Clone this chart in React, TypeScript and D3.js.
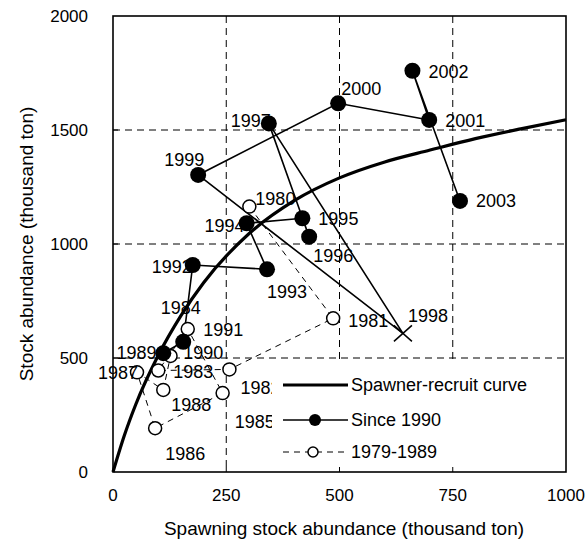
import React from "react";
import * as d3 from "d3";

// axis ticks
const xTicks = [0, 250, 500, 750, 1000];
const yTicks = [0, 500, 1000, 1500, 2000];
const gridX = [250, 500, 750];
const gridY = [500, 1000, 1500];

// 1979-1989 period (open circles, dashed)
const oldYears = ["1980", "1981", "1982", "1983", "1984", "1985", "1986", "1987", "1988", "1989"];
const oldSpawning = [301, 486, 257, 100, 165, 242, 93, 53, 111, 127];
const oldStock = [1164, 674, 450, 445, 627, 346, 192, 437, 360, 509];

// since 1990 (filled circles, solid)
const newYears = ["1990", "1991", "1992", "1993", "1994", "1995", "1996", "1997", "1998", "1999", "2000", "2001", "2002", "2003"];
const newSpawning = [111, 155, 176, 340, 295, 418, 433, 344, 640, 188, 497, 698, 661, 766];
const newStock = [521, 571, 908, 889, 1091, 1113, 1032, 1529, 608, 1303, 1617, 1544, 1760, 1189];
const crossYears = ["1998"];

// spawner-recruit curve
const curveSpawning = [0, 25, 50, 100, 150, 200, 300, 400, 500, 600, 700, 800, 900, 1000];
const curveStock = [0, 160, 295, 512, 686, 830, 1045, 1190, 1290, 1360, 1412, 1462, 1505, 1545];

const legendLabels = ["Spawner-recruit curve", "Since 1990", "1979-1989"];

// label placement [dx, dy, anchor]
const labelPos: Record<string, [number, number, string]> = {
  "1980": [6, -8, "start"],
  "1981": [15, 2, "start"],
  "1982": [11, 18, "start"],
  "1983": [15, 1, "start"],
  "1984": [-7, -21, "middle"],
  "1985": [12, 29, "start"],
  "1986": [10, 25, "start"],
  "1987": [1, 0, "end"],
  "1988": [8, 15, "start"],
  "1989": [-14, -3, "end"],
  "1990": [20, -1, "start"],
  "1991": [20, -12, "start"],
  "1992": [-1, 2, "end"],
  "1993": [0, 22, "start"],
  "1994": [-2, 2, "end"],
  "1995": [16, 0, "start"],
  "1996": [4, 19, "start"],
  "1997": [2, -3, "end"],
  "1998": [5, -18, "start"],
  "1999": [-14, -15, "middle"],
  "2000": [3, -15, "start"],
  "2001": [16, 1, "start"],
  "2002": [16, 1, "start"],
  "2003": [16, 0, "start"],
};

const W = 586;
const H = 550;
const left = 113, right = 566, top = 16, bottom = 472;
const font = "'Liberation Sans', Arial, sans-serif";

export default function App() {
  const x = d3.scaleLinear().domain([0, 1000]).range([left, right]);
  const y = d3.scaleLinear().domain([0, 2000]).range([bottom, top]);

  const curvePts = curveSpawning.map((s, i) => [s, curveStock[i]] as [number, number]);
  const oldPts = oldYears.map((yr, i) => ({ yr, s: oldSpawning[i], r: oldStock[i] }));
  const newPts = newYears.map((yr, i) => ({ yr, s: newSpawning[i], r: newStock[i] }));

  const line = d3.line<[number, number]>().x(d => x(d[0])).y(d => y(d[1]));
  const smooth = d3.line<[number, number]>().x(d => x(d[0])).y(d => y(d[1])).curve(d3.curveMonotoneX);

  const legY = [385, 420, 452];

  return (
    <div style={{ position: "absolute", left: 0, top: 0 }}>
      <svg width={W} height={H} style={{ display: "block", fontFamily: font }}>
        <rect width={W} height={H} fill="#fff" />
        {/* grid */}
        {gridX.map(v => (
          <line key={"gx" + v} x1={x(v)} x2={x(v)} y1={top} y2={bottom} stroke="#000" strokeWidth={1} strokeDasharray="7,5" />
        ))}
        {gridY.map(v => (
          <line key={"gy" + v} x1={left} x2={right} y1={y(v)} y2={y(v)} stroke="#000" strokeWidth={1} strokeDasharray="7,5" />
        ))}

        {/* curve */}
        <path d={smooth(curvePts) || ""} fill="none" stroke="#000" strokeWidth={3.2} />

        {/* 1979-1989 */}
        <path d={line(oldPts.map(p => [p.s, p.r] as [number, number])) || ""} fill="none" stroke="#000" strokeWidth={1} strokeDasharray="6,5" />
        {/* since 1990 */}
        <path d={line(newPts.map(p => [p.s, p.r] as [number, number])) || ""} fill="none" stroke="#000" strokeWidth={1.6} />

        {oldPts.map(p => (
          <circle key={"o" + p.yr} cx={x(p.s)} cy={y(p.r)} r={6.5} fill="#fff" stroke="#000" strokeWidth={1.5} />
        ))}
        {newPts.map(p =>
          crossYears.includes(p.yr) ? (
            <g key={"n" + p.yr} stroke="#000" strokeWidth={1.5}>
              <line x1={x(p.s) - 9} x2={x(p.s) + 9} y1={y(p.r) - 8} y2={y(p.r) + 8} />
              <line x1={x(p.s) - 9} x2={x(p.s) + 9} y1={y(p.r) + 8} y2={y(p.r) - 8} />
            </g>
          ) : (
            <circle key={"n" + p.yr} cx={x(p.s)} cy={y(p.r)} r={8} fill="#000" />
          )
        )}

        {/* year labels */}
        {[...oldPts, ...newPts].map(p => {
          const [dx, dy, anchor] = labelPos[p.yr];
          return (
            <text key={"t" + p.yr} x={x(p.s) + dx} y={y(p.r) + dy} dy="0.35em" textAnchor={anchor} fontSize={18} fill="#000">
              {p.yr}
            </text>
          );
        })}

        {/* legend */}
        <rect x={272} y={363} width={right - 272} height={bottom - 363} fill="#fff" />
        <line x1={283} x2={348} y1={legY[0]} y2={legY[0]} stroke="#000" strokeWidth={3.2} />
        <line x1={283} x2={348} y1={legY[1]} y2={legY[1]} stroke="#000" strokeWidth={1.6} />
        <circle cx={315} cy={legY[1]} r={6} fill="#000" />
        <line x1={283} x2={348} y1={legY[2]} y2={legY[2]} stroke="#000" strokeWidth={1} strokeDasharray="6,5" />
        <circle cx={313} cy={legY[2]} r={5} fill="#fff" stroke="#000" strokeWidth={1.5} />
        {legendLabels.map((t, i) => (
          <text key={t} x={351} y={legY[i]} dy="0.35em" fontSize={18} fill="#000">{t}</text>
        ))}

        {/* frame + inner ticks */}
        <rect x={left} y={top} width={right - left} height={bottom - top} fill="none" stroke="#000" strokeWidth={1.6} />
        {gridX.map(v => (
          <line key={"tx" + v} x1={x(v)} x2={x(v)} y1={bottom} y2={bottom - 5} stroke="#000" strokeWidth={1} />
        ))}
        {gridY.map(v => (
          <line key={"ty" + v} x1={left} x2={left + 5} y1={y(v)} y2={y(v)} stroke="#000" strokeWidth={1} />
        ))}

        {/* tick labels */}
        {xTicks.map(v => (
          <text key={"xl" + v} x={x(v)} y={495} dy="0.35em" textAnchor="middle" fontSize={17} fill="#000">{v}</text>
        ))}
        {yTicks.map(v => (
          <text key={"yl" + v} x={88} y={y(v)} dy="0.35em" textAnchor="end" fontSize={17} fill="#000">{v}</text>
        ))}

        {/* axis titles */}
        <text x={344} y={528} dy="0.35em" textAnchor="middle" fontSize={19} fill="#000">
          Spawning stock abundance (thousand ton)
        </text>
        <text transform={`translate(26,${(top + bottom) / 2}) rotate(-90)`} dy="0.35em" textAnchor="middle" fontSize={19} fill="#000">
          Stock abundance (thousand ton)
        </text>
      </svg>
    </div>
  );
}
